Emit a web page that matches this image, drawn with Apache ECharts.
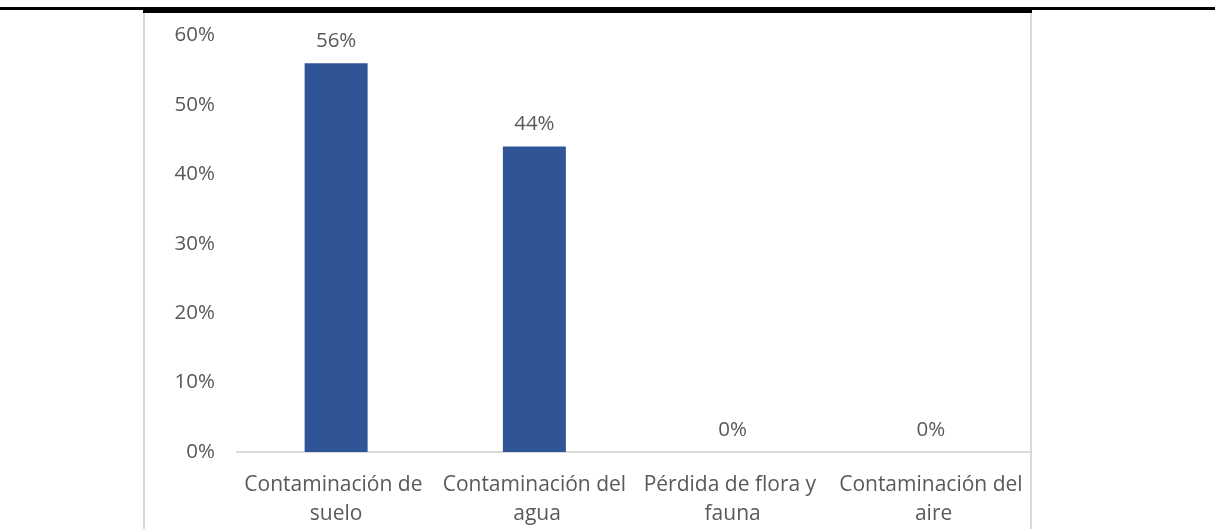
<!DOCTYPE html>
<html>
<head>
<meta charset="utf-8">
<script src="https://cdn.jsdelivr.net/npm/echarts@6/dist/echarts.min.js"></script>
<style>
  html, body { margin: 0; padding: 0; background: #fff; }
  #chart { position: absolute; left: 0; top: 0; width: 1215px; height: 529px; }
  .rule { position: absolute; }
</style>
</head>
<body>
<div id="chart"></div>
<!-- marco del documento -->
<div class="rule" style="left:0;top:7px;width:1215px;height:3px;background:#000"></div>
<div class="rule" style="left:143px;top:7px;width:889px;height:6px;background:#000"></div>
<div class="rule" style="left:143px;top:13px;width:2px;height:516px;background:#d9d9d9"></div>
<div class="rule" style="left:1030px;top:13px;width:2px;height:516px;background:#d9d9d9"></div>
<script>
// datos
const categorias = ['Contaminación de suelo', 'Contaminación del agua', 'Pérdida de flora y fauna', 'Contaminación del aire'];
const porcentajes = [56, 44, 0, 0];
const ticksY = [0, 10, 20, 30, 40, 50, 60];

const gris = '#595959';
const fuente = '"Open Sans", "Noto Sans", sans-serif';

const chart = echarts.init(document.getElementById('chart'));
chart.setOption({
  animation: false,
  grid: { left: 237, right: 185, top: 35.5, bottom: 76.5 },
  xAxis: {
    type: 'category',
    data: categorias,
    axisTick: { show: false },
    axisLine: { lineStyle: { color: '#d9d9d9', width: 2 } },
    axisLabel: {
      color: gris, fontSize: 21, fontFamily: fuente,
      lineHeight: 29, margin: 19, interval: 0,
      width: 196, overflow: 'break', align: 'center'
    }
  },
  yAxis: {
    type: 'value',
    min: ticksY[0],
    max: ticksY[ticksY.length - 1],
    interval: 10,
    splitLine: { show: false },
    axisLine: { show: false },
    axisTick: { show: false },
    axisLabel: {
      color: gris, fontSize: 20.5, fontFamily: fuente, margin: 22,
      padding: [6, 0, 0, 0],
      formatter: v => v + '%'
    }
  },
  series: [{
    type: 'bar',
    data: porcentajes,
    barWidth: 63,
    itemStyle: { color: '#2f5597' },
    label: {
      show: true, position: 'top', distance: 12,
      color: gris, fontSize: 20.5, lineHeight: 20, fontFamily: fuente,
      formatter: p => p.value + '%'
    }
  }]
});
</script>
</body>
</html>
